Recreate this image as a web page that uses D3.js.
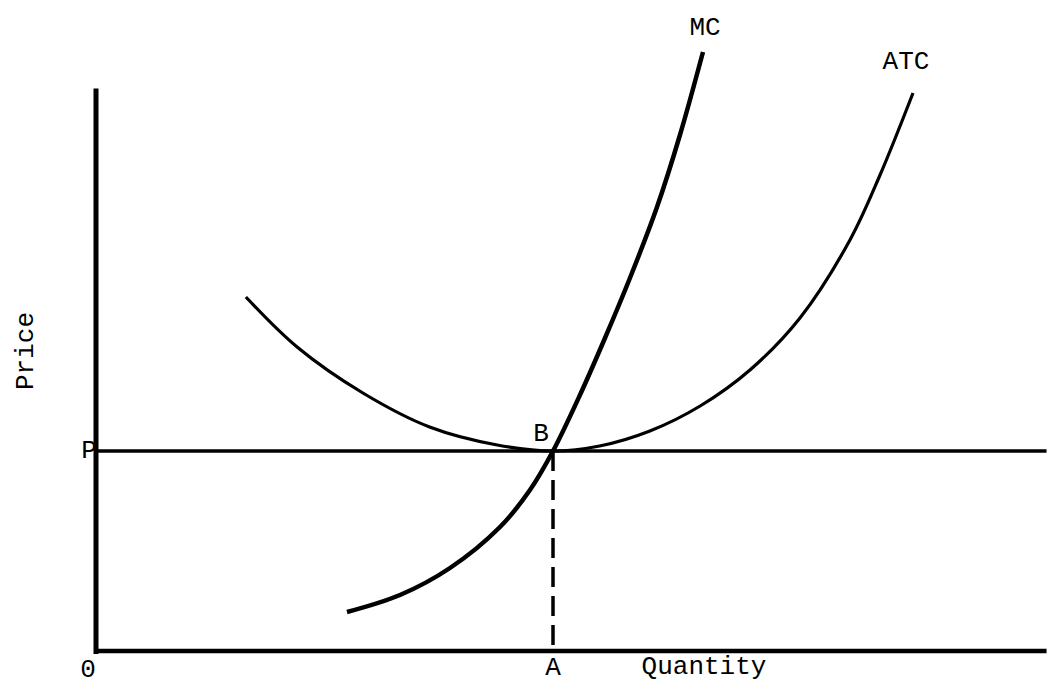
<!DOCTYPE html>
<html>
<head>
<meta charset="utf-8">
<script src="https://cdn.jsdelivr.net/npm/d3@7/dist/d3.min.js"></script>
<style>
  html, body { margin: 0; padding: 0; background: #fff; }
  svg text { font-family: "Liberation Mono", "DejaVu Sans Mono", monospace; fill: #000; }
</style>
</head>
<body>
<svg id="chart" width="1047" height="686"></svg>
<script>
// Cost curves of a firm: quantity on x, price/cost on y
const priceP = 40;        // market price P (horizontal line)
const quantityA = 50;     // output A where MC crosses ATC at its minimum (point B)

const mcQ = [27.46, 33.26, 38.73, 44.20, 47.48, 50, 52.95, 55.69, 58.42, 61.38, 63.89, 66.41];
const mcC = [7.8, 11.2, 16.6, 24.8, 32.2, 40, 51.2, 62.6, 74.6, 88.8, 103.2, 119.8];

const atcQ = [16.4, 22.0, 29.2, 36.5, 43.9, 50, 55.1, 60.6, 66.1, 71.55, 77.02, 82.49, 85.78, 89.39];
const atcC = [70.8, 60.8, 51.6, 44.8, 41.2, 40, 41, 44, 49, 56.2, 66.6, 82.2, 95.2, 111.6];

const qMax = 104;
const pAxisTop = 112.5;

const svg = d3.select("#chart");

const x = d3.scaleLinear().domain([0, qMax]).range([96, 96 + qMax * 9.14]);
const y = d3.scaleLinear().domain([0, 40]).range([651, 451]);

const line = d3.line()
  .x(d => x(d[0]))
  .y(d => y(d[1]))
  .curve(d3.curveCatmullRom.alpha(0.5));

// axes
svg.append("line")
  .attr("x1", x(0)).attr("x2", x(0))
  .attr("y1", y(pAxisTop)).attr("y2", y(0) + 3)
  .attr("stroke", "#000").attr("stroke-width", 5);
svg.append("line")
  .attr("x1", x(0) - 2).attr("x2", x(qMax))
  .attr("y1", y(0)).attr("y2", y(0))
  .attr("stroke", "#000").attr("stroke-width", 4.5);

// price line P
svg.append("line")
  .attr("x1", x(0)).attr("x2", x(qMax))
  .attr("y1", y(priceP)).attr("y2", y(priceP))
  .attr("stroke", "#000").attr("stroke-width", 3.5);

// dashed drop line from B to A
svg.append("line")
  .attr("x1", x(quantityA)).attr("x2", x(quantityA))
  .attr("y1", y(priceP)).attr("y2", y(0))
  .attr("stroke", "#000").attr("stroke-width", 3.5)
  .attr("stroke-dasharray", "20,9");

// ATC curve
svg.append("path")
  .datum(atcQ.map((q, i) => [q, atcC[i]]))
  .attr("d", line)
  .attr("fill", "none").attr("stroke", "#000").attr("stroke-width", 3.2);

// MC curve
svg.append("path")
  .datum(mcQ.map((q, i) => [q, mcC[i]]))
  .attr("d", line)
  .attr("fill", "none").attr("stroke", "#000").attr("stroke-width", 4.5);

// labels
const fs = 26;
function label(txt, px, py, anchor) {
  return svg.append("text")
    .attr("x", px).attr("y", py)
    .attr("text-anchor", anchor || "middle")
    .attr("font-size", fs)
    .text(txt);
}
label("MC", x(mcQ[mcQ.length - 1]) + 2, y(mcC[mcC.length - 1]) - 17);
label("ATC", x(atcQ[atcQ.length - 1]) - 7, y(atcC[atcC.length - 1]) - 24);
label("P", x(0) - 7, y(priceP) + 7);
label("B", x(quantityA) - 12, y(priceP) - 10);
label("0", x(0) - 8, y(0) + 26);
label("A", x(quantityA), y(0) + 24);
label("Quantity", 704, y(0) + 23);

svg.append("text")
  .attr("transform", `translate(33, 351) rotate(-90)`)
  .attr("text-anchor", "middle")
  .attr("font-size", fs)
  .text("Price");
</script>
</body>
</html>
